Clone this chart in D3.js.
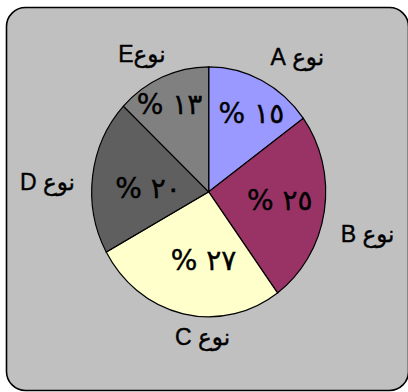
<!DOCTYPE html>
<html>
<head>
<meta charset="utf-8">
<script src="https://cdn.jsdelivr.net/npm/d3@7"></script>
<style>
  body { margin: 0; background: #fff; }
  svg { display: block; }
</style>
</head>
<body>
<svg id="chart" width="408" height="392"></svg>
<script>

// chart values
var categories = ["نوع A", "نوع B", "نوع C", "نوع D", "نوعE"];
var values = [15, 25, 27, 20, 13];
var valueLabels = ["١٥ %", "٢٥ %", "٢٧ %", "٢٠ %", "١٣ %"];
var colours = ["#9999FF", "#993366", "#FFFFCC", "#5F5F5F", "#808080"];

// label placement (angle nudge in degrees, radius as a share of the pie)
var outerNudge = [8, 5, -10, -4, -4];
var outerRadius = [1.32, 1.40, 1.16, 1.38, 1.24];
var innerNudge = [3, -3, -8, -4, -2];
var innerRadius = [0.73, 0.61, 0.55, 0.52, 0.78];

var CX = 208.7, CY = 191.8, RX = 117, RY = 125;

var svg = d3.select("#chart");

// frame
svg.append("rect")
	.attr("x", 6.5)
	.attr("y", 7.5)
	.attr("width", 402)
	.attr("height", 383)
	.attr("rx", 19)
	.attr("ry", 19)
	.style("fill", "#C0C0C0")
	.style("stroke", "#000")
	.style("stroke-width", 1.6);

var pie = d3.pie().sort(null).value(function(d) { return d; });
var slices = pie(values);

// unit arc, stretched into the ellipse
var arc = d3.arc().innerRadius(0).outerRadius(1);

var pieG = svg.append("g")
	.attr("transform", "translate(" + CX + "," + CY + ") scale(" + RX + "," + RY + ")");

pieG.selectAll("path")
	.data(slices)
	.enter().append("path")
	.attr("d", arc)
	.style("fill", function(d, i) { return colours[i]; })
	.style("stroke", "#000")
	.style("stroke-width", 1.2)
	.attr("vector-effect", "non-scaling-stroke");

function polar(angle, r) {
	return [CX + Math.sin(angle) * r * RX, CY - Math.cos(angle) * r * RY];
}

function midAngle(d) { return (d.startAngle + d.endAngle) / 2; }

var DEG = Math.PI / 180;

// percentage labels inside the slices
svg.selectAll("text.value")
	.data(slices)
	.enter().append("text")
	.attr("class", "value")
	.attr("x", function(d, i) { return polar(midAngle(d) + innerNudge[i] * DEG, innerRadius[i])[0]; })
	.attr("y", function(d, i) { return polar(midAngle(d) + innerNudge[i] * DEG, innerRadius[i])[1]; })
	.attr("dy", "0.36em")
	.attr("text-anchor", "middle")
	.attr("direction", "rtl")
	.style("font-family", "'DejaVu Sans', sans-serif")
	.style("font-size", "28px")
	.style("fill", "#000")
	.style("stroke", "#000")
	.style("stroke-width", 0.4)
	.text(function(d, i) { return valueLabels[i]; });

// category labels outside the pie
svg.selectAll("text.cat")
	.data(slices)
	.enter().append("text")
	.attr("class", "cat")
	.attr("x", function(d, i) { return polar(midAngle(d) + outerNudge[i] * DEG, outerRadius[i])[0]; })
	.attr("y", function(d, i) { return polar(midAngle(d) + outerNudge[i] * DEG, outerRadius[i])[1]; })
	.attr("dy", "0.36em")
	.attr("text-anchor", "middle")
	.attr("direction", "rtl")
	.style("font-family", "'Liberation Sans', 'DejaVu Sans', sans-serif")
	.style("font-size", "23px")
	.style("fill", "#000")
	.style("stroke", "#000")
	.style("stroke-width", 0.4)
	.text(function(d, i) { return categories[i]; });

</script>
</body>
</html>
